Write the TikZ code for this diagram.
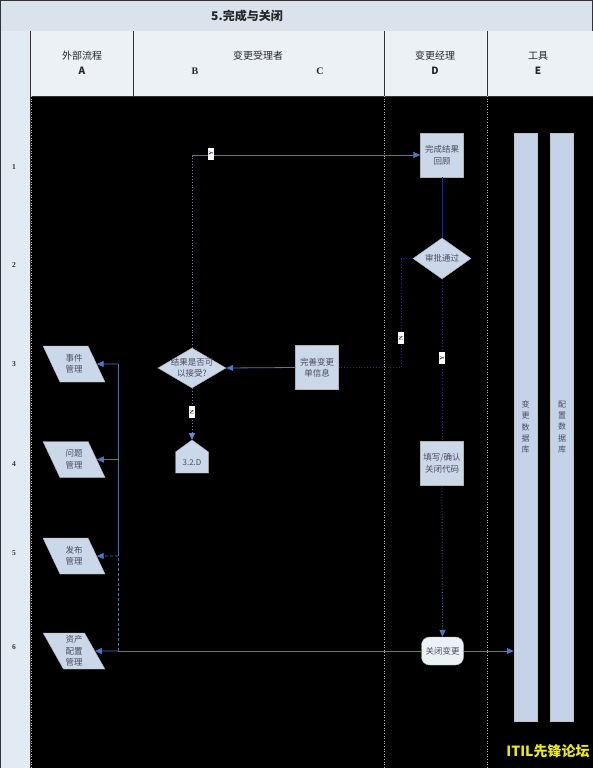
\documentclass[tikz,border=0pt]{standalone}
\usepackage{fontspec}
\setmainfont{Liberation Serif}
\newfontfamily\cjk{Noto Sans CJK SC}
\usetikzlibrary{shapes.geometric,arrows.meta}
\definecolor{titlebg}{RGB}{218,226,235}
\definecolor{headbg}{RGB}{236,241,246}
\definecolor{colbg}{RGB}{226,234,243}
\definecolor{boxfill}{RGB}{203,216,234}
\definecolor{barfill}{RGB}{196,211,231}
\definecolor{lineblue}{RGB}{70,120,195}
\definecolor{navy}{RGB}{35,35,180}
\definecolor{txt}{RGB}{75,75,90}
\definecolor{rule}{RGB}{50,50,55}
\definecolor{wmyellow}{RGB}{235,235,20}
\begin{document}
\begin{tikzpicture}[x=1pt,y=-1pt,
  nodefont/.style={font=\cjk\fontsize{8.5}{11.5}\selectfont,text=txt},
  box/.style={nodefont,draw=gray!60,fill=boxfill,minimum width=43pt,minimum height=44pt,inner sep=1pt,align=center},
  dia/.style={nodefont,diamond,draw=gray!60,fill=boxfill,inner sep=0pt,aspect=1.6,align=center},
  para/.style={nodefont,trapezium,trapezium left angle=118,trapezium right angle=62,trapezium stretches=true,
     draw=gray!60,fill=boxfill,minimum width=62pt,minimum height=36pt,inner sep=0pt,align=center},
  term/.style={nodefont,rounded corners=8pt,draw=gray!60,fill=headbg,minimum width=42pt,minimum height=28pt,inner sep=1pt},
  bar/.style={nodefont,draw=gray!50,fill=barfill,minimum width=23pt,minimum height=588pt,inner sep=0pt,align=center,
     font=\cjk\fontsize{8}{11.3}\selectfont},
  lab/.style={fill=white,inner sep=0pt,minimum width=12pt,minimum height=6pt,rotate=90,font=\bfseries\fontsize{6}{6}\selectfont,text=black!80},
  hd/.style={font=\cjk\fontsize{10}{15}\selectfont,text=black!85,align=center},
  rownum/.style={font=\bfseries\fontsize{7.5}{7.5}\selectfont,text=black!80},
  arr/.style={-{Triangle[length=7pt,width=6pt]}},
  conn/.style={lineblue,line width=0.8pt},
  dconn/.style={navy,line width=0.9pt}
]
\useasboundingbox (0,0) rectangle (593,768);
% backgrounds
\fill[black] (30,96) rectangle (593,768);
\fill[titlebg] (0,0) rectangle (593,31);
\draw[rule,line width=0.8pt] (0.5,0.5) rectangle (592.5,31);
\fill[colbg] (0,31) rectangle (30,768);
\fill[headbg] (30,31) rectangle (593,96);
\draw[rule,line width=0.8pt] (30,31) -- (30,768);
\draw[rule,line width=0.8pt] (0.5,31) -- (0.5,768);
\draw[rule,line width=0.8pt] (30,96) -- (593,96);
\foreach \x in {133,384,487} \draw[rule,line width=0.8pt] (\x,31) -- (\x,96);
\foreach \x in {384,487} \draw[gray!55,dotted,line width=0.6pt] (\x,96) -- (\x,768);
\draw[gray!55,dotted,line width=0.6pt] (31.5,96) -- (31.5,768);
% title and headers
\node[font=\cjk\bfseries\fontsize{12}{12}\selectfont,text=black!85] (title) at (247,15.5) {5.完成与关闭};
\node[hd] (hA) at (82,63) {外部流程\\\textbf{\fontsize{10}{10}\selectfont A}};
\node[hd] (hBC) at (258,56) {变更受理者};
\node[font=\bfseries\fontsize{10}{10}\selectfont,text=black!85] (hB) at (195,71) {B};
\node[font=\bfseries\fontsize{10}{10}\selectfont,text=black!85] (hC) at (320,71) {C};
\node[hd] (hD) at (435,63) {变更经理\\\textbf{\fontsize{10}{10}\selectfont D}};
\node[hd] (hE) at (538,63) {工具\\\textbf{\fontsize{10}{10}\selectfont E}};
% row numbers
\node[rownum] (r1) at (14,167) {1};
\node[rownum] (r2) at (14,265) {2};
\node[rownum] (r3) at (14,364) {3};
\node[rownum] (r4) at (14,464) {4};
\node[rownum] (r5) at (14,553) {5};
\node[rownum] (r6) at (14,647) {6};
% tool bars
\node[bar] (cdb) at (525.5,427) {变\\更\\数\\据\\库};
\node[bar] (kdb) at (562,427) {配\\置\\数\\据\\库};
% process nodes
\node[box] (rev) at (442,155) {完成结果\\回顾};
\node[dia,minimum width=58pt,minimum height=41pt] (appr) at (442,258.5) {\makebox[0pt]{审批通过}};
\node[box] (upd) at (317,367.5) {完善变更\\单信息};
\node[dia,minimum width=68pt,minimum height=40pt] (acc) at (192,368) {\makebox[0pt]{结果是否可}\\\makebox[0pt]{以接受?}};
\filldraw[draw=gray!60,fill=boxfill] (175.5,473) -- (208.5,473) -- (208.5,452) -- (192,440) -- (175.5,452) -- cycle;
\coordinate (offtop) at (192,440);
\node[nodefont,inner sep=0pt] (off) at (192,462.5) {\fontsize{8}{8}\selectfont 3.2.D};
\node[box] (code) at (442,463.5) {填写/确认\\关闭代码};
\node[term] (cls) at (442.5,651) {关闭变更};
% external processes
\node[para] (inc) at (74,364) {事件\\管理};
\node[para] (prb) at (74,459.5) {问题\\管理};
\node[para] (rel) at (74,556) {发布\\管理};
\node[para] (ast) at (74,651) {资产\\配置\\管理};
% connectors in lane D
\draw[dconn] (rev.south) -- (appr.north);
\coordinate (nb) at (401,258.5);
\coordinate (nc) at (401,367.5);
\draw[dconn,dotted] (appr.west) -- (nb) -- (nc) -- (upd.east);
\draw[dconn,dotted] (appr.south) -- (code.north);
\draw[conn,dotted,arr] (code.south) -- (cls.north);
\draw[conn,arr] (cls.east) -- (cls.east -| cdb.west);
% lane B/C
\draw[conn,arr] (upd.west) -- (acc.east);
\coordinate (yc) at (acc.north |- rev.west);
\draw[lineblue!85,dotted,line width=0.9pt] (acc.north) -- (yc);
\draw[conn,arr] (yc) -- (rev.west);
\draw[lineblue!85,dotted,line width=0.9pt,arr] (acc.south) -- (offtop);
% labels
\node[lab] (l1) at (211,153.5) {Y};
\node[lab] (l2) at (401,338) {N};
\node[lab] (l3) at (442,358) {Y};
\node[lab] (l4) at (192,412) {N};
% feedback to external processes
\coordinate (jn) at (118,651);
\coordinate (j5) at (118,556);
\coordinate (j4) at (118,459.5);
\coordinate (j3) at (118,364);
\draw[conn] (cls.west) -- (jn);
\draw[conn,arr] (jn) -- (ast.east);
\draw[conn,densely dashed] (jn) -- (j5);
\draw[conn,densely dashed,arr] (j5) -- (rel.east);
\draw[conn] (j5) -- (j3);
\draw[conn,arr] (j4) -- (prb.east);
\draw[conn,arr] (j3) -- (inc.east);
% watermark
\node[font=\cjk\bfseries\fontsize{14}{14}\selectfont,text=wmyellow] (wm) at (548,751) {ITIL先锋论坛};
\end{tikzpicture}
\end{document}
